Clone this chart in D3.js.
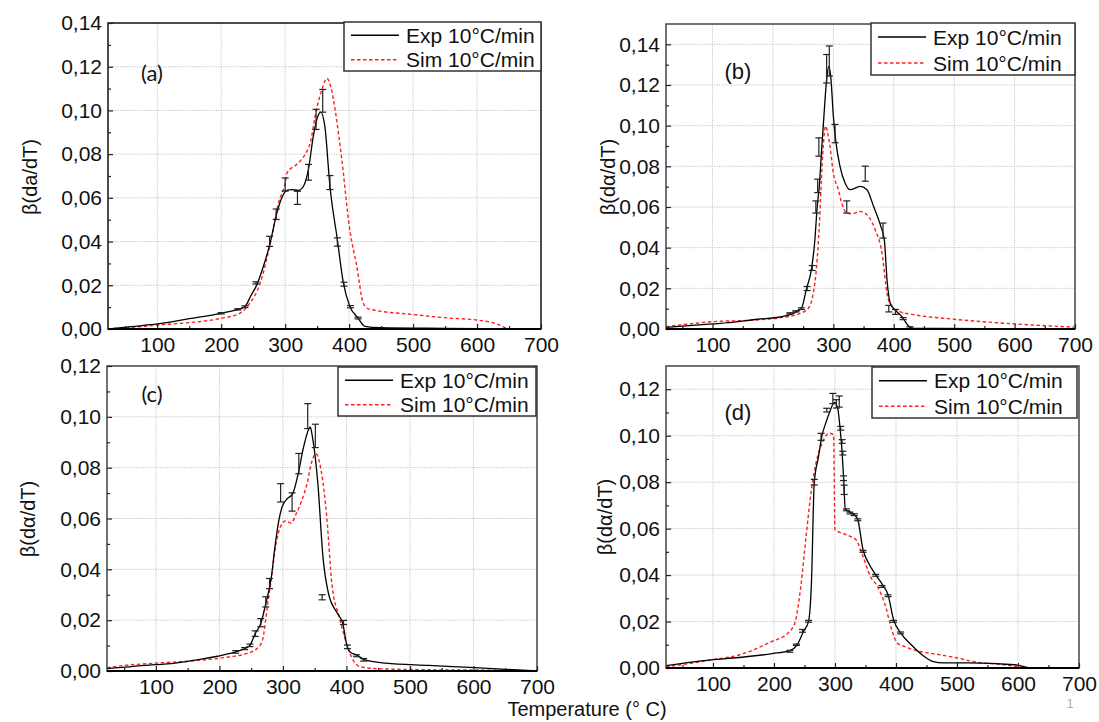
<!DOCTYPE html>
<html><head><meta charset="utf-8">
<script src="https://cdn.jsdelivr.net/npm/d3@7"></script>
<style>body{margin:0;background:#fff}svg{display:block}</style>
</head><body>
<svg id="chart" width="1099" height="722"></svg>
<script>
// ---------- DATA ----------
const xTicks = [100, 200, 300, 400, 500, 600, 700];
const xMinor = [50, 150, 250, 350, 450, 550, 650];
const yTicksA = [0, 0.02, 0.04, 0.06, 0.08, 0.10, 0.12, 0.14];
const yTicksB = [0, 0.02, 0.04, 0.06, 0.08, 0.10, 0.12, 0.14];
const yTicksC = [0, 0.02, 0.04, 0.06, 0.08, 0.10, 0.12];
const yTicksD = [0, 0.02, 0.04, 0.06, 0.08, 0.10, 0.12];
const legendLabels = ["Exp 10°C/min", "Sim 10°C/min"];
const panelLabels = ["(a)", "(b)", "(c)", "(d)"];
const yTitles = ["β(da/dT)", "β(dα/dT)", "β(dα/dT)", "β(dα/dT)"];
const xTitle = "Temperature (° C)";

const aExp = [[23,0],[60,0.0011],[100,0.0023],[150,0.0047],[200,0.0072],[226,0.009],[237,0.0102],[246,0.015],[255.8,0.0203],[266,0.0287],[276.6,0.0394],[287,0.053],[294.8,0.06],[302.6,0.0634],[310.4,0.0638],[320.8,0.0634],[328.6,0.0653],[336.4,0.073],[344,0.0882],[352,0.098],[355.6,0.0992],[362,0.0928],[370,0.0653],[381.6,0.0409],[391,0.0211],[401,0.0104],[414,0.005],[424.7,0.0012],[448,0.0006],[550,0.0003],[640,0.0001],[700,0]];
const aSim = [[23,0],[100,0.0018],[200,0.0049],[229,0.0072],[245,0.0119],[261,0.021],[276.6,0.039],[289.6,0.0577],[300,0.0669],[303,0.0715],[318,0.0753],[331,0.0798],[339,0.085],[349,0.1005],[358,0.110],[365,0.1147],[372,0.110],[378,0.1005],[388,0.079],[401,0.0455],[412,0.0287],[422,0.0119],[430,0.0092],[500,0.0066],[557,0.005],[600,0.0041],[628,0.0026],[653,0],[700,0]];
const aErr = [[200,0.0072,0.0003],[226,0.009,0.0003],[237,0.0102,0.0004],[254.3,0.0211,0.0005],[275.6,0.0401,0.0023],[286,0.0525,0.0024],[300,0.0661,0.003],[319.2,0.06,0.003],[336.4,0.0717,0.0036],[348.3,0.0959,0.0046],[358.7,0.1044,0.0052],[370,0.067,0.0032],[381.6,0.0398,0.0019],[392,0.0205,0.0009],[402,0.0102,0.0005],[414,0.005,0.0004]];

const bExp = [[23,0.0008],[100,0.0025],[127,0.0031],[175,0.0048],[211,0.0059],[233,0.0076],[247,0.01],[255.6,0.0199],[264,0.0298],[269.4,0.0438],[273.3,0.0602],[276.7,0.0701],[280.6,0.0882],[284.4,0.1047],[288.9,0.1228],[292.2,0.129],[295.6,0.1244],[300,0.1047],[304.4,0.0915],[311,0.08],[319.4,0.0718],[327.8,0.0685],[344.4,0.0701],[355.6,0.0685],[366.7,0.0602],[377.8,0.0512],[384.4,0.0438],[388.9,0.024],[394.4,0.0125],[402.8,0.0092],[413.9,0.0059],[425,0.0013],[433,0.0003],[550,0.0002],[640,0.0002],[700,0]];
const bSim = [[23,0.0011],[100,0.0036],[169,0.0044],[211,0.0055],[244,0.0076],[258,0.01],[266.7,0.0174],[272.2,0.0306],[276.7,0.0504],[280,0.0718],[283.3,0.0899],[287.2,0.0998],[290.6,0.0965],[294.4,0.0899],[300,0.0767],[308.3,0.0685],[313.9,0.0619],[322.2,0.057],[330.6,0.0566],[344.4,0.0578],[358.3,0.0553],[369.4,0.0487],[380.6,0.0372],[388.9,0.0174],[397.2,0.0109],[411,0.0084],[430,0.0072],[500,0.0048],[600,0.0025],[700,0.0009]];
const bErr = [[228,0.0077,0.0003],[238,0.0087,0.0003],[247,0.01,0.0004],[256.7,0.0199,0.001],[265,0.03,0.0012],[271,0.06,0.003],[274,0.0704,0.0033],[276,0.0895,0.0045],[288.9,0.128,0.007],[293.3,0.1318,0.0074],[302.8,0.0961,0.0045],[322.2,0.06,0.003],[352.8,0.0764,0.0037],[382.2,0.0484,0.0037],[391.7,0.01,0.0016],[402.8,0.0084,0.0012],[415.6,0.0051,0.0005],[426.7,0.0007,0.0004]];

const cExp = [[23,0.0009],[100,0.0025],[124,0.0029],[169,0.0046],[197,0.0058],[225.5,0.0075],[239.6,0.0088],[248,0.0101],[256.4,0.0147],[265,0.0186],[273,0.0265],[281.8,0.037],[287.4,0.0488],[292,0.057],[298.6,0.0645],[307,0.0678],[315.5,0.0698],[324,0.0776],[332.4,0.088],[340.9,0.0953],[343,0.096],[346.5,0.092],[355,0.0737],[363,0.0449],[371.8,0.0304],[385.9,0.0226],[394.3,0.0186],[400,0.0108],[405.6,0.0075],[416.8,0.0062],[428,0.0045],[461.8,0.0031],[529.4,0.0022],[602.5,0.0013],[700,0]];
const cSim = [[23,0.0013],[51,0.0022],[100,0.0031],[169,0.0042],[214,0.0055],[242,0.0068],[259,0.0088],[267.7,0.0121],[276,0.0265],[282,0.037],[287.4,0.0475],[298.6,0.058],[304,0.059],[312.7,0.0582],[321,0.0619],[329.6,0.0671],[338,0.0737],[345,0.082],[352,0.0855],[360.5,0.0783],[369,0.0606],[377,0.0344],[388.7,0.0212],[397,0.0134],[408,0.0055],[422.5,0.0016],[450.6,0.0009],[529,0.0005],[642,0.0003],[700,0]];
const cErr = [[225.5,0.0075,0.0005],[239.6,0.0088,0.0004],[248,0.0101,0.0005],[256.4,0.0147,0.0011],[265,0.019,0.0016],[273,0.0272,0.002],[278.9,0.0344,0.002],[296.3,0.0701,0.0036],[314.4,0.0665,0.0036],[325,0.0816,0.004],[339,0.1003,0.0049],[351,0.0925,0.0046],[361.7,0.029,0.001],[395.5,0.0191,0.0008],[401.6,0.0095,0.0007],[415.7,0.006,0.0004],[427,0.0044,0.0005]];

const dExp = [[23,0.001],[100,0.0036],[133,0.0043],[197,0.0062],[226,0.0075],[238,0.01],[248.5,0.0158],[256.7,0.0201],[261.4,0.0366],[266,0.0796],[273,0.091],[279,0.1004],[284.8,0.1054],[290.6,0.1097],[299.4,0.1143],[305,0.111],[308,0.104],[311,0.0953],[314,0.0824],[317,0.0681],[322.8,0.0674],[331.6,0.066],[337.4,0.0638],[346,0.0509],[355,0.0452],[366.7,0.0401],[378,0.0358],[387,0.0315],[396,0.0208],[407.6,0.0151],[425,0.01],[442.7,0.0057],[460,0.0029],[477.8,0.0022],[518.7,0.0022],[594.7,0.0014],[624,0],[700,0]];
const dSim = [[23,0.0004],[100,0.0036],[144,0.0057],[191,0.0108],[226,0.0158],[235,0.0201],[244,0.0351],[252.6,0.0566],[261.4,0.0767],[270,0.0896],[279,0.0968],[290.6,0.1011],[297.7,0.1004],[300,0.0595],[308,0.0584],[325.7,0.0566],[334.5,0.0552],[346,0.048],[358,0.0394],[369.6,0.0351],[381.3,0.028],[393,0.0165],[401.8,0.0108],[413.5,0.0093],[436.8,0.0072],[460,0.0062],[501,0.0043],[530,0.0026],[577,0.0014],[618,0],[700,0]];
const dErr = [[226,0.0072,0.0004],[236.8,0.01,0.0003],[246.8,0.016,0.0006],[256.7,0.0201,0.0004],[266,0.08,0.0012],[277.2,0.0995,0.0015],[286.5,0.111,0.0008],[296.5,0.116,0.0022],[302.3,0.1137,0.0018],[307,0.1147,0.0024],[309.4,0.1032,0.0008],[311.7,0.0975,0.0008],[312.9,0.0925,0.0008],[314,0.0817,0.001],[315,0.0767,0.002],[318.7,0.0681,0.0004],[324.6,0.0667,0.0004],[331.6,0.066,0.0004],[337.4,0.0638,0.0004],[346,0.0502,0.0004],[366.7,0.0399,0.0004],[377,0.0351,0.0004],[387,0.0311,0.0004],[396,0.0201,0.0004],[407.6,0.0151,0.0004]];

// ---------- LAYOUT ----------
const panels = [
  {exp:aExp, sim:aSim, err:aErr, yTicks:yTicksA, yMax:0.14, box:[108,23,541,329], frame:"#111",
   label:panelLabels[0], labelPos:[152,72], labelFont:"Lato", title:yTitles[0], titlePos:[30,177],
   leg:[344,22,541,71]},
  {exp:bExp, sim:bSim, err:bErr, yTicks:yTicksB, yMax:0.15, box:[666,24,1075,329], frame:"#444",
   label:panelLabels[1], labelPos:[738,71], labelFont:"Liberation Sans", title:yTitles[1], titlePos:[608,177],
   leg:[871,23,1075,75]},
  {exp:cExp, sim:cSim, err:cErr, yTicks:yTicksC, yMax:0.12, box:[107,366,537,671], frame:"#444",
   label:panelLabels[2], labelPos:[152,393], labelFont:"Lato", title:yTitles[2], titlePos:[28,519],
   leg:[338,367,536,416]},
  {exp:dExp, sim:dSim, err:dErr, yTicks:yTicksD, yMax:0.13, box:[666,366,1079,668], frame:"#444",
   label:panelLabels[3], labelPos:[738,412], labelFont:"Liberation Sans", title:yTitles[3], titlePos:[605,517],
   leg:[872,367,1077,418]}
];

const svg = d3.select("#chart");
const fmt = v => d3.format(".2f")(v).replace(".", ",");
const FONT = "Liberation Sans, Arial, sans-serif";

panels.forEach((p, i) => {
  const [x0, y0, x1, y1] = p.box;
  const x = d3.scaleLinear().domain([23, 700]).range([x0, x1]);
  const y = d3.scaleLinear().domain([0, p.yMax]).range([y1, y0]);
  const g = svg.append("g");

  // grid
  g.append("g").selectAll("line").data(xTicks.filter(t => t < 700)).join("line")
    .attr("x1", d => x(d)).attr("x2", d => x(d)).attr("y1", y0).attr("y2", y1)
    .attr("stroke", "#c4c4c4").attr("stroke-width", 1).attr("stroke-dasharray", "1.2,1.2");
  g.append("g").selectAll("line").data(p.yTicks.filter(t => t > 0 && y(t) > y0 + 1)).join("line")
    .attr("x1", x0).attr("x2", x1).attr("y1", d => y(d)).attr("y2", d => y(d))
    .attr("stroke", "#c4c4c4").attr("stroke-width", 1).attr("stroke-dasharray", "1.2,1.2");

  // clip
  const cid = "clip" + i;
  svg.append("clipPath").attr("id", cid).append("rect")
    .attr("x", x0).attr("y", y0 - 2).attr("width", x1 - x0).attr("height", y1 - y0 + 2);

  const line = d3.line().x(d => x(d[0])).y(d => y(d[1])).curve(d3.curveMonotoneX);
  const plot = g.append("g").attr("clip-path", `url(#${cid})`);
  plot.append("path").datum(p.sim).attr("d", line).attr("fill", "none")
    .attr("stroke", "#ff1f1f").attr("stroke-width", 1.4).attr("stroke-dasharray", "3.5,2.5");
  plot.append("path").datum(p.exp).attr("d", line).attr("fill", "none")
    .attr("stroke", "#000").attr("stroke-width", 1.3);

  // error bars
  const eb = plot.append("g").attr("stroke", "#222").attr("stroke-width", 1.2);
  const cap = 3.5;
  p.err.forEach(e => {
    const xx = x(e[0]), ya = y(e[1] + e[2]), yb = y(e[1] - e[2]);
    eb.append("line").attr("x1", xx).attr("x2", xx).attr("y1", ya).attr("y2", yb);
    eb.append("line").attr("x1", xx - cap).attr("x2", xx + cap).attr("y1", ya).attr("y2", ya);
    eb.append("line").attr("x1", xx - cap).attr("x2", xx + cap).attr("y1", yb).attr("y2", yb);
  });

  // frame
  g.append("rect").attr("x", x0).attr("y", y0).attr("width", x1 - x0).attr("height", y1 - y0)
    .attr("fill", "none").attr("stroke", p.frame).attr("stroke-width", 1.5);

  // axes (ticks inside)
  const xAxis = d3.axisBottom(x).tickValues(xTicks).tickSize(-5).tickPadding(8).tickFormat(d3.format("d"));
  const xa = g.append("g").attr("transform", `translate(0,${y1})`).call(xAxis);
  const xm = g.append("g").attr("transform", `translate(0,${y1})`)
    .call(d3.axisBottom(x).tickValues(xMinor).tickSize(-3).tickFormat(""));
  const minorY = p.yTicks.slice(0, -1).map(v => v + 0.01).filter(v => v < p.yMax);
  const yAxis = d3.axisLeft(y).tickValues(p.yTicks).tickSize(-5).tickPadding(6).tickFormat(fmt);
  const ya = g.append("g").attr("transform", `translate(${x0},0)`).call(yAxis);
  const ym = g.append("g").attr("transform", `translate(${x0},0)`)
    .call(d3.axisLeft(y).tickValues(minorY).tickSize(-3).tickFormat(""));
  [xa, xm, ya, ym].forEach(a => {
    a.select(".domain").remove();
    a.selectAll("line").attr("stroke", "#222").attr("stroke-width", 1.2);
    a.selectAll("text").attr("font-family", FONT).attr("font-size", 21).attr("fill", "#111");
  });
  g.append("line").attr("x1", x0).attr("x2", x1).attr("y1", y1).attr("y2", y1)
    .attr("stroke", "#000").attr("stroke-width", 1.8);

  // y title
  g.append("text").attr("transform", `translate(${p.titlePos[0]},${p.titlePos[1]}) rotate(-90)`)
    .attr("text-anchor", "middle").attr("dominant-baseline", "central")
    .attr("font-family", FONT).attr("font-size", 20).attr("fill", "#111").text(p.title);

  // panel label
  g.append("text").attr("x", p.labelPos[0]).attr("y", p.labelPos[1]).attr("text-anchor", "middle")
    .attr("dominant-baseline", "central").attr("font-family", p.labelFont).attr("font-size", 22)
    .attr("fill", "#111").text(p.label);

  // legend
  const [lx0, ly0, lx1, ly1] = p.leg;
  g.append("rect").attr("x", lx0).attr("y", ly0).attr("width", lx1 - lx0).attr("height", ly1 - ly0)
    .attr("fill", "#fff").attr("stroke", "#333").attr("stroke-width", 1.5);
  const rowH = (ly1 - ly0) / 2;
  legendLabels.forEach((lab, k) => {
    const cy = ly0 + rowH * (k + 0.5) + 1;
    g.append("line").attr("x1", lx0 + 7).attr("x2", lx0 + 55).attr("y1", cy).attr("y2", cy)
      .attr("stroke", k === 0 ? "#000" : "#ff1f1f").attr("stroke-width", 1.3)
      .attr("stroke-dasharray", k === 0 ? null : "3.5,2.5");
    g.append("text").attr("x", lx0 + 62).attr("y", cy).attr("dominant-baseline", "central")
      .attr("font-family", FONT).attr("font-size", 21).attr("fill", "#111").text(lab);
  });
});

// x title and page number
svg.append("text").attr("x", 587).attr("y", 709).attr("text-anchor", "middle")
  .attr("dominant-baseline", "central").attr("font-family", FONT).attr("font-size", 20)
  .attr("fill", "#111").text(xTitle);
svg.append("text").attr("x", 1070).attr("y", 704).attr("text-anchor", "middle")
  .attr("dominant-baseline", "central").attr("font-family", FONT).attr("font-size", 12)
  .attr("fill", "#aaa").text("1");
</script>
</body></html>
